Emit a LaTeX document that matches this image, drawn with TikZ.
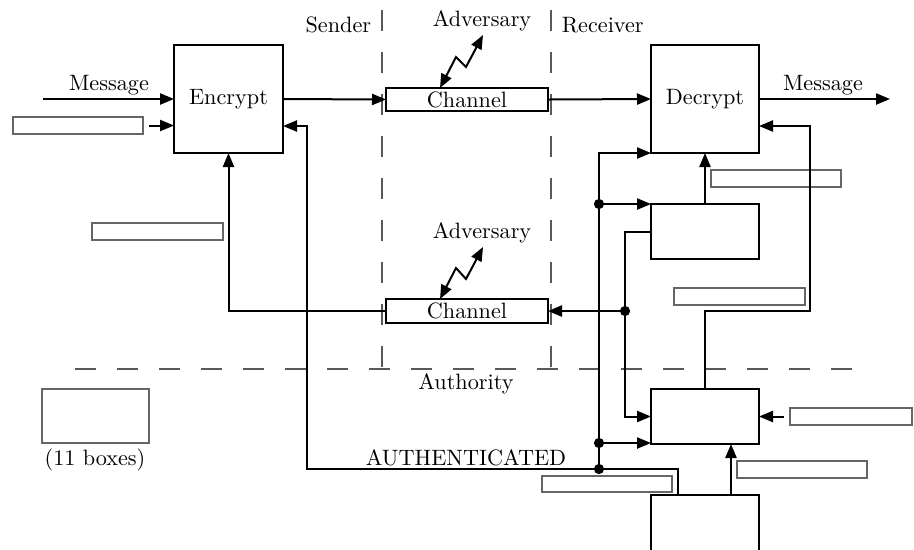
\documentclass[tikz,border=0pt]{standalone}
\usetikzlibrary{arrows.meta,fit}
\begin{document}
\begin{tikzpicture}[x=0.45pt,y=-0.45pt,
  box/.style={draw, line width=0.9pt, inner sep=0pt, outer sep=0pt},
  lbl/.style={draw=black!60, line width=0.5pt, inner sep=0pt, outer sep=0pt},
  wire/.style={line width=0.9pt},
  arr/.style={wire, -{Triangle[length=6.3pt,width=5pt]}},
  bolt/.style={wire, {Triangle[length=6.3pt,width=5pt]}-{Triangle[length=6.3pt,width=5pt]}},
  sep/.style={draw=black!65, line width=0.5pt, dash pattern=on 9.45pt off 9.45pt},
  dot/.style={circle, fill, inner sep=0pt, minimum size=4.6pt}]
\clip (0,0) rectangle (914,549);

% separators between sender, channel, receiver and authority
\coordinate (s1t) at (382,10);  \coordinate (s1b) at (382,369);
\coordinate (s2t) at (551,10);  \coordinate (s2b) at (551,369);
\coordinate (hl)  at (75,369);  \coordinate (hr)  at (858,369);
\draw[sep] (s1t) -- (s1b);
\draw[sep] (s2t) -- (s2b);
\draw[sep] (hl) -- (hr);

% main blocks
\node[box, fit={(174,45)(283,153)}, label=center:Encrypt]  (enc) {};
\node[box, fit={(651,45)(759,153)}, label=center:Decrypt]  (dec) {};
\node[box, fit={(386,88)(548,111)}, label=center:Channel]  (ch1) {};
\node[box, fit={(386,299)(548,323)}, label=center:Channel] (ch2) {};
\node[box, fit={(651,204)(759,259)}] (b2) {};
\node[box, fit={(651,389)(759,444)}] (b3) {};
\node[box, fit={(651,495)(759,580)}] (b4) {};

% empty label boxes
\node[lbl, fit={(13,117)(143,134)}]  (k1) {};
\node[lbl, fit={(92,223)(223,240)}]  (k2) {};
\node[lbl, fit={(711,170)(841,187)}] (k3) {};
\node[lbl, fit={(674,288)(805,305)}] (k4) {};
\node[lbl, fit={(790,408)(912,425)}] (k5) {};
\node[lbl, fit={(737,461)(867,478)}] (k6) {};
\node[lbl, fit={(542,476)(672,492)}] (k7) {};
\node[lbl, fit={(42,389)(149,443)}]  (leg) {};

% texts
\node (msgL) at (109,85) {Message};
\node (msgR) at (823,85) {Message};
\node[anchor=east] (snd) at (379,25) {Sender};
\node[anchor=west] (rcv) at (554,25) {Receiver};
\node (adv1) at (482,21) {Adversary};
\node (adv2) at (482,233) {Adversary};
\node (auth) at (466,384) {Authority};
\node (authd) at (466,458) {AUTHENTICATED};
\node (cnt) at (95,460) {(11 boxes)};

% wire end points and junctions
\coordinate (min)  at (43,99);
\coordinate (mout) at (890,99);
\coordinate (jd)   at (599,204);
\coordinate (jb)   at (599,443);
\coordinate (ja)   at (599,469);
\coordinate (jc)   at (625,311);
\coordinate (fbb)  at (810,311);
\coordinate (fbt)  at (810,126);
\coordinate (a4)   at (678,495);
\coordinate (rb)   at (307,469);
\coordinate (rt)   at (307,126);
\coordinate (c4)   at (731,495);

% message path
\draw[arr] (min) -- (enc.west);
\draw[arr] ([xshift=2.7pt]k1.east) -- (k1.east -| enc.west);
\draw[arr] (enc.east) -- (ch1.west);
\draw[arr] (ch1.east) -- (dec.west);
\draw[arr] (dec.east) -- (mout);

% receiver side
\draw[arr] (b2.north) -- (dec.south);
\draw[arr] (b3.north) |- (fbb) -- (fbt) -- (fbt -| dec.east);
\draw[arr] (ja) |- (dec.south west);
\draw[arr] (jd) -- (jd -| b2.west);
\draw[arr] (jb) -- (jb -| b3.west);
\draw[arr] (b2.west) -| (jc) |- (b3.west);
\draw[arr] (jc) -- (ch2.east);
\draw[arr] (ch2.west) -| (enc.south);

% authority
\draw[arr] (a4) |- (rb) -- (rt) -- (rt -| enc.east);
\draw[arr] (c4) -- (c4 |- b3.south);
\draw[arr] ([xshift=-2.7pt]k5.west) -- (k5.west -| b3.east);

% junction dots
\node[dot] (dd) at (jd) {};
\node[dot] (db) at (jb) {};
\node[dot] (da) at (ja) {};
\node[dot] (dc) at (jc) {};

% adversary access
\coordinate (z1a) at (483,35);  \coordinate (z1b) at (466,67);
\coordinate (z1c) at (456,57);  \coordinate (z1d) at (440,88);
\draw[bolt] (z1a) -- (z1b) -- (z1c) -- (z1d);
\coordinate (z2a) at (483,247); \coordinate (z2b) at (466,279);
\coordinate (z2c) at (456,268); \coordinate (z2d) at (440,299);
\draw[bolt] (z2a) -- (z2b) -- (z2c) -- (z2d);
\end{tikzpicture}
\end{document}
